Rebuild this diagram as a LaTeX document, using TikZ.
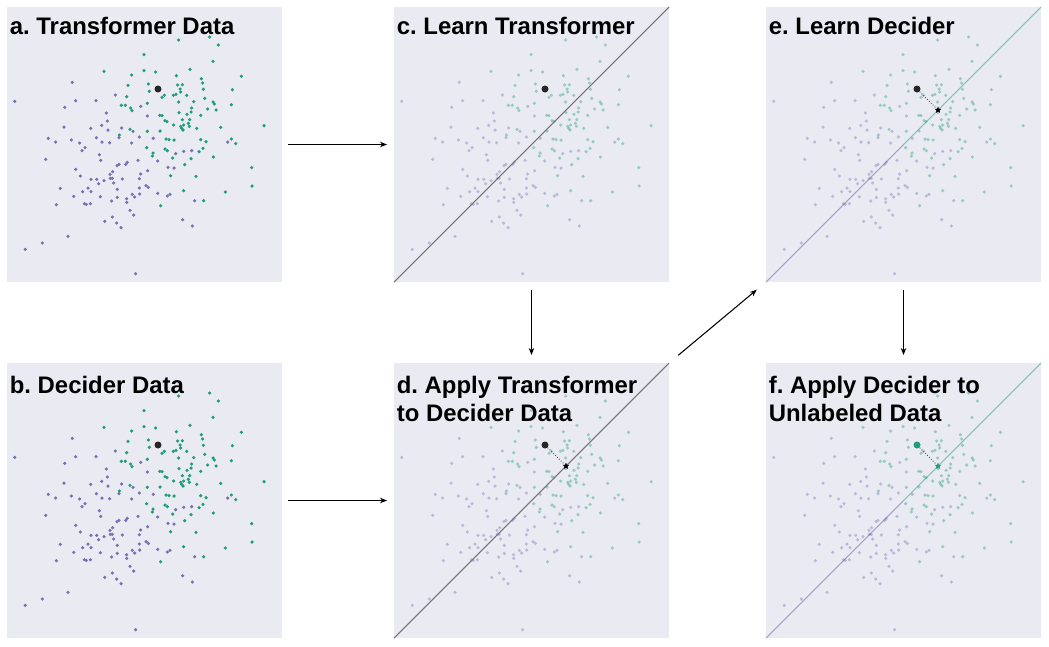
\documentclass[tikz,border=0pt]{standalone}
\usepackage{fontspec}
\setmainfont{Liberation Sans}
\usepackage{xcolor}
\usepackage{tikz}
\usetikzlibrary{arrows.meta,calc,positioning,shapes.geometric}
\frenchspacing
\definecolor{panelgrey}{RGB}{234,234,242}
\definecolor{dgreen}{RGB}{27,158,119}
\definecolor{dpurple}{RGB}{117,112,179}
\definecolor{rulegrey}{RGB}{115,115,115}
\tikzset{
  panel/.style={rectangle,fill=panelgrey,draw=none,minimum width=5.5cm,
    minimum height=5.5cm,inner sep=0pt,outer sep=0pt},
  paneltitle/.style={anchor=north west,inner sep=0pt,align=left,
    font=\fontsize{13.6}{15.9}\selectfont\bfseries},
  flow/.style={-{Stealth[length=1.4mm,width=1.1mm]},line width=0.6pt,draw=black},
  splitline/.style={draw=rulegrey,line width=0.6pt},
  purpleline/.style={draw=dpurple,draw opacity=0.6,line width=0.6pt},
  greenline/.style={draw=dgreen,draw opacity=0.5,line width=0.6pt},
  proj/.style={draw=black!70,densely dotted,line width=0.5pt},
  bigdot/.style={circle,fill=black!85,minimum size=0.14cm,inner sep=0pt},
  starmark/.style={star,star points=5,star point ratio=2.2,fill=black,
    minimum size=0.14cm,inner sep=0pt}
}
\newcommand{\ptset}[4]{%
  \foreach \u/\v in {#4}{\fill[#3] ({#1+\u/3},{#2+\v/3}) circle[radius=1pt];}}
\newcommand{\drawcloud}{%
  \ptset{0}{0}{dpurple}{196/226,23/283,206/281,267/281,325/264,173/301,298/318,
    401/298,301/342,284/355,171/360,251/364,303/369,344/363,378/373,397/390,
    124/394,146/405,193/399,218/408,268/392,285/405,308/407,336/392,374/408}
  \ptset{0}{0}{dgreen}{411/143,291/193,411/191,374/204,363/235,359/269,343/295,
    355/295,371/303,375/311,369/367,337/384}
  \ptset{138}{0}{dpurple}{7/327,25/394,248/405}
  \ptset{138}{0}{dgreen}{101/99,194/90,220/114,204/163,135/187,32/195,94/206,
    289/208,169/215,173/228,10/231,98/234,112/233,105/246,175/247,262/248,13/253,
    107/255,58/265,51/271,85/265,93/262,125/265,179/274,146/284,101/285,204/285,
    208/291,7/289,259/293,140/303,188/306,213/309,102/317,126/322,138/315,167/325,
    44/325,51/326,60/341,66/344,112/338,134/338,130/349,86/354,107/358,116/354,
    133/358,110/364,114/369,155/364,227/361,357/356,45/372,7/373,63/396,72/398,
    87/399,167/398,183/404,259/396,272/410}
  \ptset{0}{138}{dpurple}{234/8,225/17,277/29,116/43,281/46,330/62,336/58,
    356/58,361/52,393/46,206/73,317/80,309/88,401/87,220/93,252/103,269/103,
    291/107,310/100,316/100,346/102,397/101,275/116,320/114,160/130,243/129,
    331/133,397/129,227/140,252/140,376/148,398/147,383/156,200/154,280/155,
    331/157,359/161,314/168,359/172,148/179,232/176,238/178,250/176,369/196,
    380/210,316/216,293/229,329/234,342/248,183/274,106/294,55/313,386/386}
  \ptset{138}{138}{dpurple}{92/26,116/19,140/17,38/48,8/77,69/67,87/69,3/122,
    10/127,38/145,67/153,75/148,149/167,113/224,142/243}
  \ptset{138}{138}{dgreen}{5/8,24/24,22/33,60/12,67/17,83/39,174/10,162/20,
    138/41,205/36,119/59,77/92,153/94,320/68,321/123,116/137,241/141,176/167,47/182}
}

\begin{document}
\begin{tikzpicture}[node distance=1.62cm]
  \useasboundingbox (0,0) rectangle (20.98,-12.92);
  \node[panel,anchor=north west] (tdata) at (0.14,-0.14) {};
  \node[panel,below=of tdata] (ddata) {};
  \node[panel,right=2.24cm of tdata] (learnt) {};
  \node[panel,below=of learnt] (applyt) {};
  \node[panel,right=1.94cm of learnt] (learnd) {};
  \node[panel,below=of learnd] (applyd) {};
  \foreach \p/\o in {tdata/1,ddata/1,learnt/0.4,applyt/0.4,learnd/0.4,applyd/0.4}{
    \begin{scope}[shift={(\p.north west)},x=0.02cm,y=-0.02cm,opacity=\o]
      \drawcloud
    \end{scope}
  }
  \draw[splitline] (learnt.south west) -- (learnt.north east);
  \draw[splitline] (applyt.south west) -- (applyt.north east);
  \draw[purpleline] (learnd.south west) -- (learnd.center);
  \draw[greenline] (learnd.center) -- (learnd.north east);
  \draw[purpleline] (applyd.south west) -- (applyd.center);
  \draw[greenline] (applyd.center) -- (applyd.north east);
  \node[bigdot] (dota) at ($(tdata.north west)+(3.02,-1.64)$) {};
  \node[bigdot] (dotb) at ($(ddata.north west)+(3.02,-1.64)$) {};
  \node[bigdot] (dotc) at ($(learnt.north west)+(3.02,-1.64)$) {};
  \node[bigdot] (dotd) at ($(applyt.north west)+(3.02,-1.64)$) {};
  \node[bigdot] (dote) at ($(learnd.north west)+(3.02,-1.64)$) {};
  \node[bigdot,fill=dgreen] (dotf) at ($(applyd.north west)+(3.02,-1.64)$) {};
  \node[starmark] (stard) at ($(applyt.south west)!(dotd)!(applyt.north east)$) {};
  \node[starmark] (stare) at ($(learnd.south west)!(dote)!(learnd.north east)$) {};
  \node[starmark,fill=dgreen] (starf) at ($(applyd.south west)!(dotf)!(applyd.north east)$) {};
  \draw[proj] (dotd) -- (stard);
  \draw[proj] (dote) -- (stare);
  \draw[proj] (dotf) -- (starf);
  \node[paneltitle] (ttla) at ([shift={(0.05,-0.2)}]tdata.north west) {a. Transformer Data};
  \node[paneltitle] (ttlb) at ([shift={(0.05,-0.26)}]ddata.north west) {b. Decider Data};
  \node[paneltitle] (ttlc) at ([shift={(0.05,-0.2)}]learnt.north west) {c. Learn Transformer};
  \node[paneltitle] (ttld) at ([shift={(0.05,-0.26)}]applyt.north west) {d. Apply Transformer\\to Decider Data};
  \node[paneltitle] (ttle) at ([shift={(0.05,-0.2)}]learnd.north west) {e. Learn Decider};
  \node[paneltitle] (ttlf) at ([shift={(0.05,-0.26)}]applyd.north west) {f. Apply Decider to\\Unlabeled Data};
  \draw[flow,shorten <=0.12cm,shorten >=0.14cm] (tdata) -- (learnt);
  \draw[flow,shorten <=0.12cm,shorten >=0.14cm] (ddata) -- (applyt);
  \draw[flow,shorten <=0.16cm,shorten >=0.16cm] (learnt) -- (applyt);
  \draw[flow,shorten <=0.24cm,shorten >=0.24cm] (applyt.north east) -- (learnd.south west);
  \draw[flow,shorten <=0.16cm,shorten >=0.16cm] (learnd) -- (applyd);
\end{tikzpicture}
\end{document}
